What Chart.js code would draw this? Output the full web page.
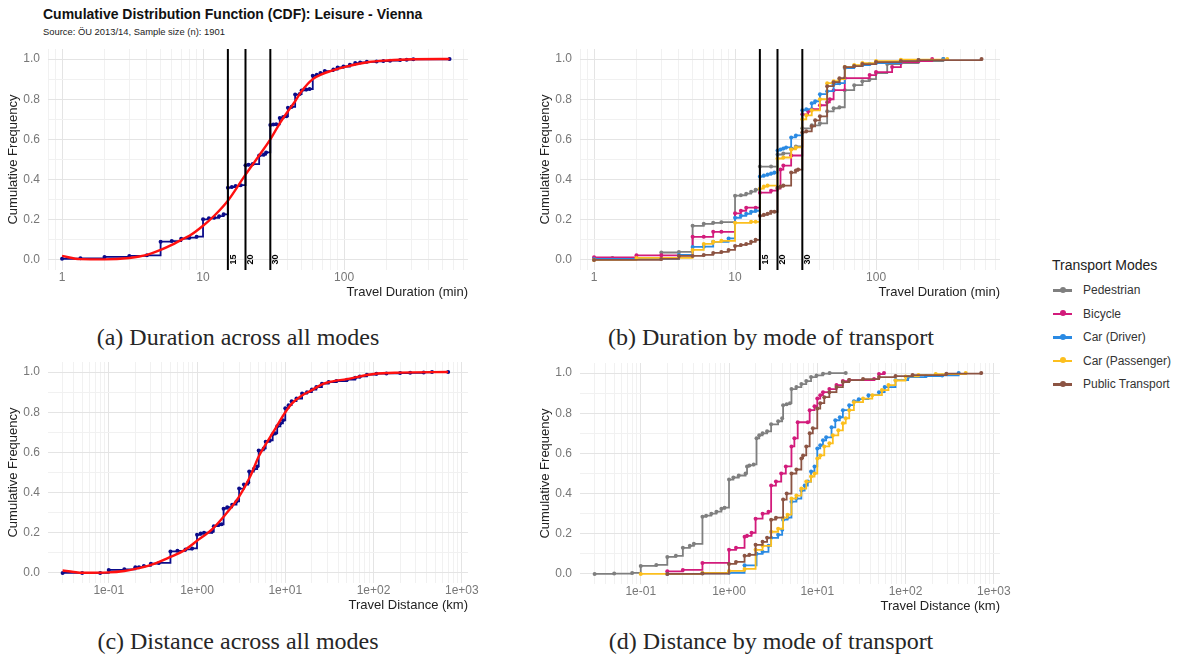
<!DOCTYPE html>
<html><head><meta charset="utf-8">
<script src="https://cdn.jsdelivr.net/npm/chart.js@4.4.1/dist/chart.umd.min.js"></script>
<style>
body{margin:0;background:#fff;width:1182px;height:664px;position:relative;overflow:hidden;font-family:"Liberation Sans",Arial,sans-serif}
.box{position:absolute;width:492px;height:270px}
.cap{position:absolute;font-family:"Liberation Serif",serif;font-size:24px;line-height:24px;color:#262626;white-space:nowrap;transform:translateX(-50%)}
#title{position:absolute;left:43px;top:7px;font-size:14px;line-height:14px;font-weight:bold;color:#111}
#sub{position:absolute;left:43px;top:27px;font-size:9.4px;line-height:10px;color:#222}
#legend{position:absolute;left:1052px;top:258px;white-space:nowrap}
#legend .lt{font-size:14px;line-height:14px;color:#222;margin-bottom:7px}
#legend .it{position:relative;height:23.5px;font-size:12px;color:#333}
#legend .sym{position:absolute;left:1px;top:10px;width:19px;height:2.5px}
#legend .dot{position:absolute;left:7px;top:-2.5px;width:6px;height:6px;border-radius:50%}
#legend .lab{position:absolute;left:31px;top:4px;line-height:14px}
</style></head>
<body>
<div id="title">Cumulative Distribution Function (CDF): Leisure - Vienna</div>
<div id="sub">Source: ÖU 2013/14, Sample size (n): 1901</div>
<div class="box" style="left:0;top:40px"><canvas id="ca" width="492" height="270"></canvas></div>
<div class="box" style="left:532px;top:40px"><canvas id="cb" width="492" height="270"></canvas></div>
<div class="box" style="left:0;top:353px"><canvas id="cc" width="492" height="270"></canvas></div>
<div class="box" style="left:532px;top:354px"><canvas id="cd" width="492" height="270"></canvas></div>
<div class="cap" style="left:238px;top:325px">(a) Duration across all modes</div>
<div class="cap" style="left:771px;top:325px">(b) Duration by mode of transport</div>
<div class="cap" style="left:238px;top:629px">(c) Distance across all modes</div>
<div class="cap" style="left:771px;top:629px">(d) Distance by mode of transport</div>
<div id="legend"></div>
<script>
// ---------- data ----------
const modes = ["Pedestrian","Bicycle","Car (Driver)","Car (Passenger)","Public Transport"];
const modeColors = ["#7f7f7f","#d21b7b","#2a8ae3","#fcbf1e","#8c5443"];
const refMinutes = [15, 20, 30];

const durAll = [[1,0.006],[1.35,0.008],[2,0.015],[3,0.02],[4,0.023],[5,0.091],[6,0.094],[7,0.106],[8,0.111],[9,0.116],[10,0.202],[11,0.207],[12,0.21],[13,0.218],[14,0.227],[15,0.36],[16,0.363],[17,0.368],[18.5,0.372],[20,0.471],[21,0.474],[22.5,0.477],[25,0.52],[27,0.525],[28,0.535],[30,0.672],[31.5,0.674],[33,0.675],[35,0.707],[37,0.712],[39,0.715],[40,0.757],[42.5,0.762],[45,0.823],[48.5,0.826],[50,0.844],[54,0.848],[57,0.851],[60,0.917],[64,0.922],[68,0.93],[73,0.94],[84,0.948],[90,0.958],[99,0.963],[110,0.972],[120,0.98],[130,0.983],[145,0.986],[170,0.988],[190,0.99],[212,0.992],[250,0.995],[278,0.997],[310,0.999],[560,1.0]];
const durFit = [[1,0.02],[1.35,0.004],[2,0.003],[3,0.01],[4,0.025],[5,0.05],[6,0.075],[7,0.1],[8,0.12],[10,0.17],[12,0.22],[15,0.295],[20,0.425],[25,0.52],[30,0.6],[35,0.68],[40,0.74],[45,0.79],[50,0.84],[60,0.9],[70,0.925],[80,0.94],[100,0.96],[150,0.985],[200,0.993],[300,0.999],[560,1.0]];

const durPedestrian = [[1.35,0.01],[3,0.037],[4,0.04],[5,0.17],[6,0.18],[7,0.185],[8,0.188],[10,0.32],[11,0.322],[12,0.33],[13,0.34],[14,0.35],[15,0.465],[18,0.465],[20,0.525],[22,0.53],[25,0.555],[27,0.565],[30,0.655],[35,0.67],[40,0.68],[45,0.74],[50,0.755],[55,0.76],[60,0.845],[70,0.87],[80,0.89],[90,0.9],[100,0.93],[120,0.975],[150,0.98],[200,0.99],[300,1.0]];
const durBicycle = [[1,0.013],[2,0.023],[3,0.023],[5,0.115],[6,0.115],[7,0.14],[8,0.14],[10,0.232],[11,0.245],[12,0.26],[14,0.26],[15,0.335],[18,0.345],[20,0.355],[21,0.45],[22,0.47],[25,0.52],[30,0.725],[33,0.74],[35,0.75],[40,0.77],[45,0.785],[47,0.8],[50,0.845],[60,0.905],[90,0.92],[100,0.935],[130,0.96],[150,0.985],[200,0.99],[250,1.0]];
const durDriver = [[1,0.005],[4,0.025],[5,0.065],[6,0.066],[7,0.09],[9,0.107],[10,0.21],[11,0.22],[12,0.23],[13,0.24],[14,0.245],[15,0.415],[16,0.42],[17,0.425],[18,0.43],[19,0.435],[20,0.545],[21,0.55],[22,0.555],[23,0.56],[25,0.61],[27,0.62],[30,0.745],[32,0.75],[35,0.78],[37,0.79],[40,0.825],[45,0.84],[50,0.875],[55,0.88],[60,0.955],[70,0.965],[80,0.97],[90,0.975],[100,0.98],[150,0.99],[200,0.995],[300,1.0]];
const durPassenger = [[1,0.0],[2,0.01],[5,0.05],[6,0.08],[7,0.09],[8,0.095],[10,0.185],[13,0.19],[14,0.19],[15,0.355],[16,0.365],[17,0.37],[20,0.505],[22,0.51],[25,0.55],[27,0.56],[30,0.7],[32,0.72],[35,0.745],[40,0.8],[45,0.88],[50,0.89],[55,0.9],[60,0.96],[70,0.97],[80,0.98],[100,0.99],[150,0.997],[320,1.0]];
const durPublic = [[1,0.0],[3,0.005],[4,0.02],[5,0.02],[6,0.025],[7,0.035],[8,0.04],[9,0.05],[10,0.07],[11,0.075],[12,0.08],[13,0.09],[14,0.1],[15,0.22],[16,0.225],[17,0.23],[18,0.24],[19,0.24],[20,0.36],[21,0.365],[22,0.37],[25,0.435],[27,0.445],[28,0.45],[30,0.635],[32,0.64],[35,0.665],[37,0.695],[40,0.715],[45,0.865],[50,0.885],[55,0.905],[60,0.96],[70,0.965],[80,0.975],[100,0.985],[150,0.99],[200,0.995],[560,1.0]];

const distAll = [[0.03,0.0],[0.05,0.0],[0.08,0.0],[0.1,0.015],[0.15,0.018],[0.2,0.028],[0.22,0.029],[0.25,0.035],[0.3,0.046],[0.37,0.05],[0.5,0.107],[0.6,0.11],[0.74,0.117],[0.88,0.122],[1.0,0.19],[1.1,0.196],[1.2,0.2],[1.48,0.206],[1.55,0.233],[1.76,0.24],[1.9,0.242],[2.0,0.32],[2.2,0.327],[2.5,0.34],[2.8,0.356],[3.0,0.42],[3.4,0.44],[3.8,0.45],[3.9,0.505],[4.4,0.517],[4.8,0.53],[5.0,0.61],[5.7,0.62],[6.0,0.653],[6.7,0.66],[7.2,0.69],[7.7,0.695],[8.1,0.73],[8.8,0.745],[9.4,0.76],[10,0.82],[10.9,0.835],[11.8,0.855],[13.4,0.868],[15.5,0.893],[17.6,0.9],[20,0.913],[22.5,0.925],[26,0.942],[31,0.95],[38,0.955],[50,0.962],[62,0.972],[70,0.978],[84,0.987],[108,0.992],[140,0.993],[200,0.995],[260,0.996],[370,0.998],[460,1.0],[700,1.0]];
const distFit = [[0.03,0.012],[0.04,0.005],[0.05,0.001],[0.1,0.003],[0.15,0.01],[0.2,0.02],[0.3,0.04],[0.5,0.08],[0.7,0.11],[1.0,0.16],[1.5,0.22],[2,0.28],[3,0.38],[4,0.48],[5,0.58],[6,0.64],[8,0.73],[10,0.8],[12,0.845],[15,0.88],[20,0.91],[25,0.935],[30,0.948],[50,0.965],[100,0.99],[200,0.997],[700,1.0]];

const distPedestrian = [[0.03,0.0],[0.05,0.002],[0.08,0.005],[0.1,0.04],[0.15,0.045],[0.2,0.085],[0.25,0.09],[0.3,0.13],[0.36,0.14],[0.4,0.15],[0.5,0.285],[0.55,0.29],[0.63,0.3],[0.72,0.31],[0.82,0.325],[0.89,0.33],[1.0,0.47],[1.12,0.48],[1.29,0.49],[1.54,0.5],[1.6,0.535],[1.7,0.54],[1.9,0.545],[2.05,0.675],[2.2,0.69],[2.4,0.7],[2.7,0.71],[3.0,0.745],[3.6,0.76],[4.0,0.775],[4.1,0.84],[4.5,0.845],[4.9,0.85],[5.1,0.92],[5.8,0.93],[6.6,0.945],[7.5,0.96],[8.5,0.98],[9.8,0.988],[11.6,0.997],[13.8,1.0],[21,1.0]];
const distBicycle = [[0.2,0.013],[0.3,0.02],[0.5,0.055],[1.0,0.12],[1.2,0.13],[1.5,0.185],[1.6,0.19],[1.8,0.205],[2.0,0.275],[2.4,0.3],[2.8,0.31],[3.0,0.44],[3.4,0.46],[3.9,0.5],[4.4,0.535],[5.1,0.635],[5.5,0.675],[6.0,0.755],[7.8,0.755],[8.2,0.815],[9.3,0.835],[10,0.873],[10.8,0.89],[11.6,0.905],[13.7,0.92],[16.5,0.94],[19.5,0.96],[23,0.965],[44,0.97],[50,0.995],[57,1.0]];
const distDriver = [[0.2,0.0],[0.5,0.003],[1.0,0.006],[1.5,0.043],[2.05,0.1],[2.4,0.11],[2.8,0.14],[3.0,0.18],[3.6,0.195],[4.0,0.22],[4.1,0.27],[4.6,0.28],[5.1,0.36],[5.8,0.375],[6.6,0.415],[7.2,0.44],[7.8,0.46],[8.5,0.51],[9.3,0.535],[10,0.625],[10.8,0.64],[11.6,0.665],[12.6,0.68],[14.5,0.73],[16,0.765],[18,0.78],[19.5,0.815],[23,0.84],[26,0.86],[29.5,0.87],[38,0.89],[50,0.905],[58,0.93],[77,0.965],[107,0.98],[170,0.985],[260,0.988],[400,1.0]];
const distPassenger = [[0.1,0.0],[0.5,0.005],[1.0,0.015],[1.5,0.025],[2.0,0.12],[2.4,0.14],[3.0,0.21],[3.6,0.225],[4.1,0.28],[4.6,0.295],[5.1,0.375],[5.8,0.39],[6.6,0.425],[7.5,0.46],[8.5,0.485],[9.3,0.5],[10,0.575],[10.8,0.59],[12,0.635],[13.7,0.65],[15,0.69],[17.3,0.715],[19.5,0.75],[21,0.775],[23,0.815],[26,0.855],[33,0.873],[42,0.89],[54,0.915],[64,0.94],[77,0.963],[100,0.983],[140,0.99],[220,0.995],[480,1.0]];
const distPublic = [[0.2,0.0],[0.5,0.002],[1.0,0.05],[1.2,0.06],[1.5,0.09],[1.7,0.095],[2.0,0.145],[2.4,0.16],[2.7,0.18],[3.0,0.27],[3.4,0.28],[4.1,0.37],[4.5,0.4],[5.1,0.5],[5.8,0.52],[6.6,0.575],[6.9,0.59],[7.5,0.635],[8.2,0.7],[8.9,0.725],[10,0.823],[10.8,0.85],[12,0.88],[13.7,0.905],[16.5,0.93],[19.5,0.955],[23,0.965],[33,0.97],[50,0.98],[77,0.985],[120,0.99],[290,0.997],[720,1.0]];

const yTicks = [0,0.1,0.2,0.3,0.4,0.5,0.6,0.7,0.8,0.9,1.0];

// ---------- helpers ----------
const FONT = "'Liberation Sans', Arial, sans-serif";
const MAJ = "#e4e4e4", MIN = "#f1f1f1";
const xy = a => a.map(([x,y]) => ({x, y}));
const isPow10 = v => Math.abs(Math.log10(v) - Math.round(Math.log10(v))) < 1e-6;
const fmtPlain = v => String(Math.round(v));
const fmtExp = v => { const e = Math.round(Math.log10(v)); return "1e" + (e < 0 ? "-" : "+") + String(Math.abs(e)).padStart(2, "0"); };

function scales(xmin, xmax, fmt, xTitle) {
  return {
    x: {
      type: "logarithmic", min: xmin, max: xmax,
      afterBuildTicks(s) {
        const t = [];
        for (let e = -3; e <= 4; e++) for (let m = 1; m <= 9; m++) {
          const v = +(m * Math.pow(10, e)).toPrecision(6);
          if (v >= xmin && v <= xmax) t.push({ value: v });
        }
        s.ticks = t;
      },
      afterFit(s) { s.height = 40; s.paddingLeft = 0; s.paddingRight = 0; },
      ticks: { autoSkip: false, maxRotation: 0, minRotation: 0, padding: 0, color: "#777", font: { size: 12, family: FONT },
        callback: v => isPow10(v) ? fmt(v) : "" },
      grid: { drawTicks: false, lineWidth: 1, color: c => (c.tick && isPow10(c.tick.value)) ? MAJ : MIN },
      border: { display: false },
      title: { display: true, text: xTitle, align: "end", color: "#222", font: { size: 13, family: FONT }, padding: { top: 0, bottom: 10 } }
    },
    y: {
      min: -0.05, max: 1.05,
      afterBuildTicks(s) { s.ticks = yTicks.map(v => ({ value: v })); },
      afterFit(s) { s.width = 48; s.paddingTop = 0; s.paddingBottom = 0; },
      ticks: { padding: 8, color: "#777", font: { size: 12, family: FONT },
        callback: v => (Math.round(v * 10) % 2 === 0) ? v.toFixed(1) : "" },
      grid: { drawTicks: false, lineWidth: 1, color: c => (c.tick && Math.round(c.tick.value * 10) % 2 === 0) ? MAJ : MIN },
      border: { display: false },
      title: { display: true, text: "Cumulative Frequency", color: "#222", font: { size: 13, family: FONT }, padding: { top: 6, bottom: 0 } }
    }
  };
}

function stepSet(data, color, order) {
  return { data: xy(data), stepped: "before", borderColor: color, backgroundColor: color, borderWidth: 1.8,
    pointRadius: 2, pointBackgroundColor: color, pointBorderWidth: 0, order };
}
function fitSet(data) {
  return { data: xy(data), borderColor: "#ff1010", borderWidth: 2.4, pointRadius: 0, cubicInterpolationMode: "monotone", order: 1 };
}
function refSets() {
  return refMinutes.map(m => ({ data: [{ x: m, y: -0.05 }, { x: m, y: 1.05 }], borderColor: "#000", borderWidth: 2, pointRadius: 0, order: 0 }));
}
const refLabels = {
  id: "refLabels",
  afterDatasetsDraw(chart, args, opts) {
    if (!opts.show) return;
    const ctx = chart.ctx, xs = chart.scales.x, ys = chart.scales.y;
    ctx.save();
    ctx.font = "bold 9px " + FONT; ctx.fillStyle = "#000"; ctx.textAlign = "center"; ctx.textBaseline = "middle";
    refMinutes.forEach(m => {
      ctx.save();
      ctx.translate(xs.getPixelForValue(m) + 5.5, ys.getPixelForValue(0.0) - 0.5);
      ctx.rotate(-Math.PI / 2);
      ctx.fillText(String(m), 0, 0);
      ctx.restore();
    });
    ctx.restore();
  }
};

function make(id, datasets, sc, showRef) {
  new Chart(document.getElementById(id), {
    type: "line",
    data: { datasets },
    plugins: [refLabels],
    options: {
      responsive: false, animation: false, devicePixelRatio: 1,
      layout: { padding: { top: 9, right: 24, left: 0, bottom: 0 } },
      plugins: { legend: { display: false }, tooltip: { enabled: false }, refLabels: { show: showRef } },
      scales: sc
    }
  });
}

const durModes = [durPedestrian, durBicycle, durDriver, durPassenger, durPublic];
const distModes = [distPedestrian, distBicycle, distDriver, distPassenger, distPublic];

make("ca", [stepSet(durAll, "#0c0c8a", 2), fitSet(durFit), ...refSets()], scales(0.795, 757, fmtPlain, "Travel Duration (min)"), true);
make("cb", [...durModes.map((d, i) => stepSet(d, modeColors[i], 6 - i)), ...refSets()], scales(0.795, 757, fmtPlain, "Travel Duration (min)"), true);
make("cc", [stepSet(distAll, "#0c0c8a", 2), fitSet(distFit)], scales(0.0205, 1175, fmtExp, "Travel Distance (km)"), false);
make("cd", distModes.map((d, i) => stepSet(d, modeColors[i], 6 - i)), scales(0.0205, 1175, fmtExp, "Travel Distance (km)"), false);

// legend
const lg = document.getElementById("legend");
lg.innerHTML = '<div class="lt">Transport Modes</div>' + modes.map((m, i) =>
  `<div class="it"><div class="sym" style="background:${modeColors[i]}"><div class="dot" style="background:${modeColors[i]}"></div></div><div class="lab">${m}</div></div>`).join("");
</script>
</body></html>
